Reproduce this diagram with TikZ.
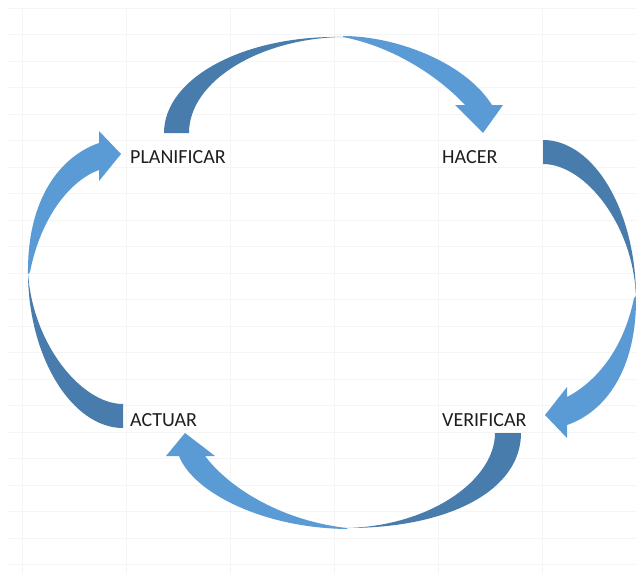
\documentclass[tikz,border=0pt]{standalone}
\usepackage{fontspec}
\setmainfont{Carlito}
\definecolor{darkb}{HTML}{487CAC}
\definecolor{lightb}{HTML}{5B9BD5}
\definecolor{gridc}{HTML}{F5F5F5}
\definecolor{txt}{HTML}{1E1E1E}
\begin{document}
\begin{tikzpicture}[x=1pt,y=-1pt,
  lbl/.style={font=\fontsize{20}{22}\selectfont, text=txt, inner sep=0pt, anchor=base west},
  back/.style={fill=darkb, draw=none},
  front/.style={fill=lightb, draw=none},
  gridline/.style={draw=gridc, line width=0.8pt}]
\useasboundingbox (0,0) rectangle (636,574);
\fill[white] (0,0) rectangle (636,574);
% faint sheet grid
\foreach \gx in {22,126,230,334,438,542}
  \draw[gridline] (\gx,8) -- (\gx,574);
\foreach \k in {0,...,21}
  \draw[gridline] (8,8+26.5*\k) -- (636,8+26.5*\k);
% labels
\node[lbl] (plan) at (130,163) {PLANIFICAR};
\node[lbl] (hacer) at (442,163) {HACER};
\node[lbl] (verif) at (442,426) {VERIFICAR};
\node[lbl] (actuar) at (130,426) {ACTUAR};
% top arrow: PLANIFICAR -> HACER
\path[back] (164,133) -- (189,133) .. controls (189,80) and (262,38) .. (343,37)
  .. controls (244,35) and (164,78) .. (164,133) -- cycle;
\path[front] (343,36) .. controls (394,36) and (464,61) .. (492,105)
  -- (503,105) -- (483,133) -- (455,105) -- (465,105)
  .. controls (440,78) and (395,47) .. (343,37) -- cycle;
% right arrow: HACER -> VERIFICAR
\path[back] (543,140) .. controls (594,140) and (636,211) .. (636,298)
  .. controls (634,225) and (585,164) .. (543,164) -- cycle;
\path[front] (636,296) .. controls (637,370) and (605,412) .. (567,425)
  -- (567,438) -- (545,415) -- (567,387) -- (567,397)
  .. controls (594,383) and (623,352) .. (634,298) -- cycle;
% bottom arrow: VERIFICAR -> ACTUAR
\path[back] (495,433) -- (521,433) .. controls (521,490) and (450,528) .. (347,528)
  .. controls (430,526) and (495,480) .. (495,433) -- cycle;
\path[front] (347,528) .. controls (284,521) and (231,490) .. (205,456)
  -- (215,456) -- (185,433) -- (166,456) -- (179,456)
  .. controls (193,492) and (262,528) .. (347,529) -- cycle;
% left arrow: ACTUAR -> PLANIFICAR
\path[back] (123,428) .. controls (72,428) and (28,357) .. (28,272)
  .. controls (32,343) and (81,404) .. (123,404) -- cycle;
\path[front] (28,274) .. controls (27,198) and (61,156) .. (99,143)
  -- (99,131) -- (121,154) -- (99,181) -- (99,170)
  .. controls (71,180) and (41,216) .. (30,272) -- cycle;
\end{tikzpicture}
\end{document}
